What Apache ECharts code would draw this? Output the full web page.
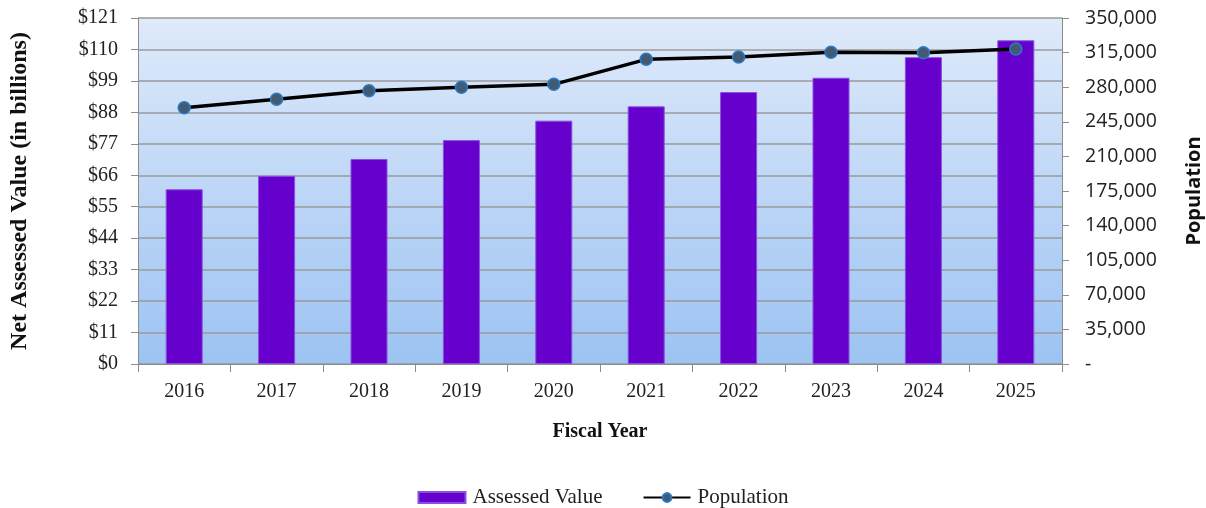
<!DOCTYPE html>
<html>
<head>
<meta charset="utf-8">
<script src="https://cdn.jsdelivr.net/npm/echarts@6/dist/echarts.min.js"></script>
<style>
  html, body { margin: 0; padding: 0; background: #fff; }
  #chart { width: 1206px; height: 508px; }
</style>
</head>
<body>
<div id="chart"></div>
<script>
// data
const years = ["2016", "2017", "2018", "2019", "2020", "2021", "2022", "2023", "2024", "2025"];
const assessedValue = [61.1, 65.8, 71.7, 78.3, 85.1, 90.1, 95.1, 100.1, 107.3, 113.2];
const population = [259300, 267800, 276500, 279900, 282900, 308200, 310600, 315300, 314800, 318700];

const serif = "Liberation Serif";
const sans = "Open Sans";
const axisGray = "#8c8c8c";

const myChart = echarts.init(document.getElementById("chart"));

const option = {
  animation: false,
  grid: {
    left: 138,
    right: 144,
    top: 18,
    bottom: 144,
    outerBoundsMode: "none",
    containLabel: false,
    show: true,
    borderWidth: 0,
    backgroundColor: new echarts.graphic.LinearGradient(0, 0, 0, 1, [
      { offset: 0, color: "#dfeafa" },
      { offset: 1, color: "#9cc3f3" },
    ]),
  },
  legend: {
    top: 482,
    left: "center",
    itemGap: 40,
    itemWidth: 47,
    itemHeight: 11,
    textStyle: { fontFamily: serif, fontSize: 21, color: "#222", padding: [0, 0, 0, 2] },
    data: [
      { name: "Assessed Value", icon: "rect" },
      { name: "Population" },
    ],
  },
  xAxis: {
    type: "category",
    data: years,
    name: "Fiscal Year",
    nameLocation: "middle",
    nameGap: 58,
    nameTextStyle: { fontFamily: serif, fontSize: 20, fontWeight: "bold", color: "#111" },
    axisLine: { lineStyle: { color: axisGray } },
    axisTick: { show: true, length: 8, alignWithLabel: false, lineStyle: { color: axisGray } },
    axisLabel: { margin: 18, fontFamily: serif, fontSize: 20, color: "#222" },
  },
  yAxis: [
    {
      type: "value",
      min: 0,
      max: 121,
      interval: 11,
      name: "Net Assessed Value (in billions)",
      nameLocation: "middle",
      nameRotate: 90,
      nameGap: 106,
      nameTextStyle: { fontFamily: serif, fontSize: 24, fontWeight: "bold", color: "#111" },
      axisLine: { show: true, lineStyle: { color: axisGray } },
      axisTick: { show: true, length: 7, lineStyle: { color: axisGray } },
      axisLabel: {
        margin: 20,
        fontFamily: serif,
        fontSize: 20,
        color: "#222",
        formatter: (v) => "$" + v,
      },
      splitLine: { show: true, lineStyle: { color: "#9a9a9a", width: 1.5 } },
    },
    {
      type: "value",
      min: 0,
      max: 350000,
      interval: 35000,
      position: "right",
      name: "Population",
      nameLocation: "middle",
      nameRotate: 90,
      nameGap: 122,
      nameTextStyle: { fontFamily: sans, fontSize: 20, fontWeight: "bold", color: "#111" },
      axisLine: { show: true, lineStyle: { color: axisGray } },
      axisTick: { show: true, length: 7, lineStyle: { color: axisGray } },
      axisLabel: {
        margin: 23,
        fontFamily: sans,
        fontSize: 19.5,
        color: "#222",
        formatter: (v) => (v === 0 ? "-" : v.toLocaleString("en-US")),
      },
      splitLine: { show: false },
    },
  ],
  series: [
    {
      name: "Assessed Value",
      type: "bar",
      data: assessedValue,
      barWidth: 37,
      itemStyle: { color: "#6600cc", borderColor: "#8a4fe0", borderWidth: 1 },
    },
    {
      name: "Population",
      type: "line",
      yAxisIndex: 1,
      data: population,
      symbol: "circle",
      symbolSize: 12,
      lineStyle: { color: "#000", width: 3.5 },
      itemStyle: { color: "#435a75", borderColor: "#2a7bc4", borderWidth: 1.5 },
      z: 5,
    },
  ],
};

option && myChart.setOption(option);
</script>
</body>
</html>
